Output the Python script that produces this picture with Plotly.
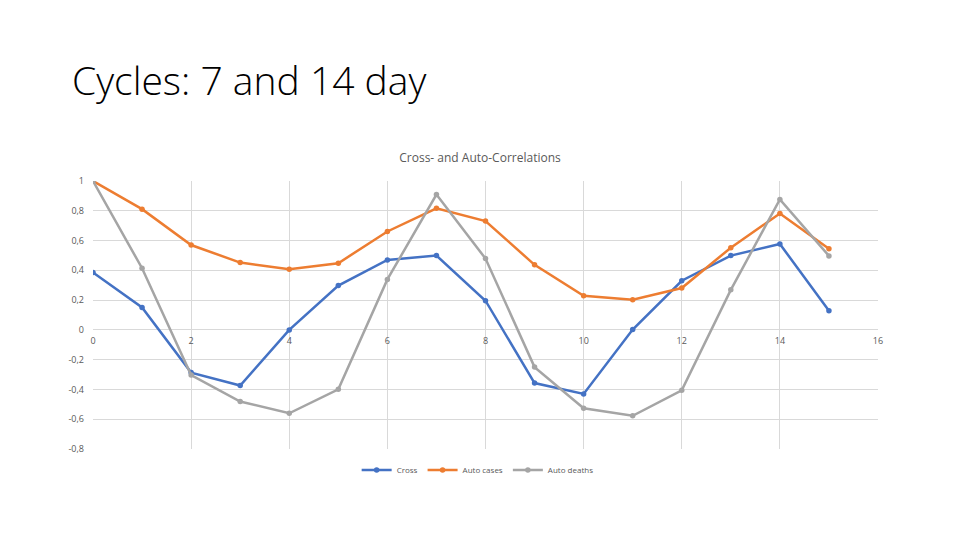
import plotly.graph_objects as go

lags = list(range(16))
cross = [0.385, 0.151, -0.287, -0.374, 0.0, 0.298, 0.47, 0.499, 0.196, -0.357, -0.43, 0.002, 0.33, 0.499, 0.577, 0.129]
auto_cases = [1.0, 0.811, 0.570, 0.452, 0.408, 0.448, 0.661, 0.817, 0.731, 0.437, 0.229, 0.202, 0.281, 0.552, 0.782, 0.545]
auto_deaths = [1.0, 0.414, -0.303, -0.481, -0.56, -0.399, 0.339, 0.909, 0.479, -0.25, -0.526, -0.577, -0.406, 0.269, 0.876, 0.497]

y_tick_values = [1.0, 0.8, 0.6, 0.4, 0.2, 0.0, -0.2, -0.4, -0.6, -0.8]
y_tick_labels = ["1", "0,8", "0,6", "0,4", "0,2", "0", "-0,2", "-0,4", "-0,6", "-0,8"]

series = [("Cross", cross, "#4472C4"), ("Auto cases", auto_cases, "#ED7D31"), ("Auto deaths", auto_deaths, "#A5A5A5")]

fig = go.Figure()
for name, vals, col in series:
    fig.add_trace(go.Scatter(x=lags, y=vals, name=name, mode="lines+markers",
                             line=dict(color=col, width=2.5),
                             marker=dict(color=col, size=5.5, symbol="circle")))

ymin, ymax = -0.8, 1.0
off = 8  # page body margin
fig.update_layout(
    width=960, height=540,
    paper_bgcolor="white", plot_bgcolor="white",
    margin=dict(l=93 - off, r=82 + off, t=181 - off, b=91 + off, autoexpand=False),
    separators=", ",
    font=dict(family="Open Sans", size=9, color="#595959"),
    title=dict(text="Cross- and Auto-Correlations", x=(480 - off) / 960, xref="container", xanchor="center",
               y=1 - (158 - off) / 540, yref="container", yanchor="middle",
               font=dict(size=12, color="#595959")),
    showlegend=True,
    legend=dict(orientation="h", x=0.49, y=-0.078, xanchor="center", yanchor="middle",
                font=dict(size=8, color="#595959"), itemwidth=30, tracegroupgap=0),
    xaxis=dict(range=[0, 16], dtick=2, tick0=0, showgrid=True, gridcolor="#D9D9D9", gridwidth=1,
               zeroline=False, showline=False, anchor="free", position=(0 - ymin) / (ymax - ymin),
               ticks="", ticklabelstandoff=4, tickfont=dict(size=9, color="#595959")),
    yaxis=dict(range=[ymin, ymax], tickvals=y_tick_values, ticktext=y_tick_labels, showgrid=True,
               gridcolor="#D9D9D9", gridwidth=1,
               zeroline=True, zerolinecolor="#D9D9D9", zerolinewidth=1, showline=False, ticks="",
               ticklabelstandoff=8, tickfont=dict(size=9, color="#595959")),
    annotations=[dict(text="Cycles: 7 and 14 day", xref="paper", yref="paper",
                      x=(70 - 93) / 785, y=(449 - 80) / 268, xanchor="left", yanchor="middle",
                      showarrow=False, font=dict(family="Open Sans", size=39, color="#000000", weight=300))],
)
fig.write_html("out.html")
